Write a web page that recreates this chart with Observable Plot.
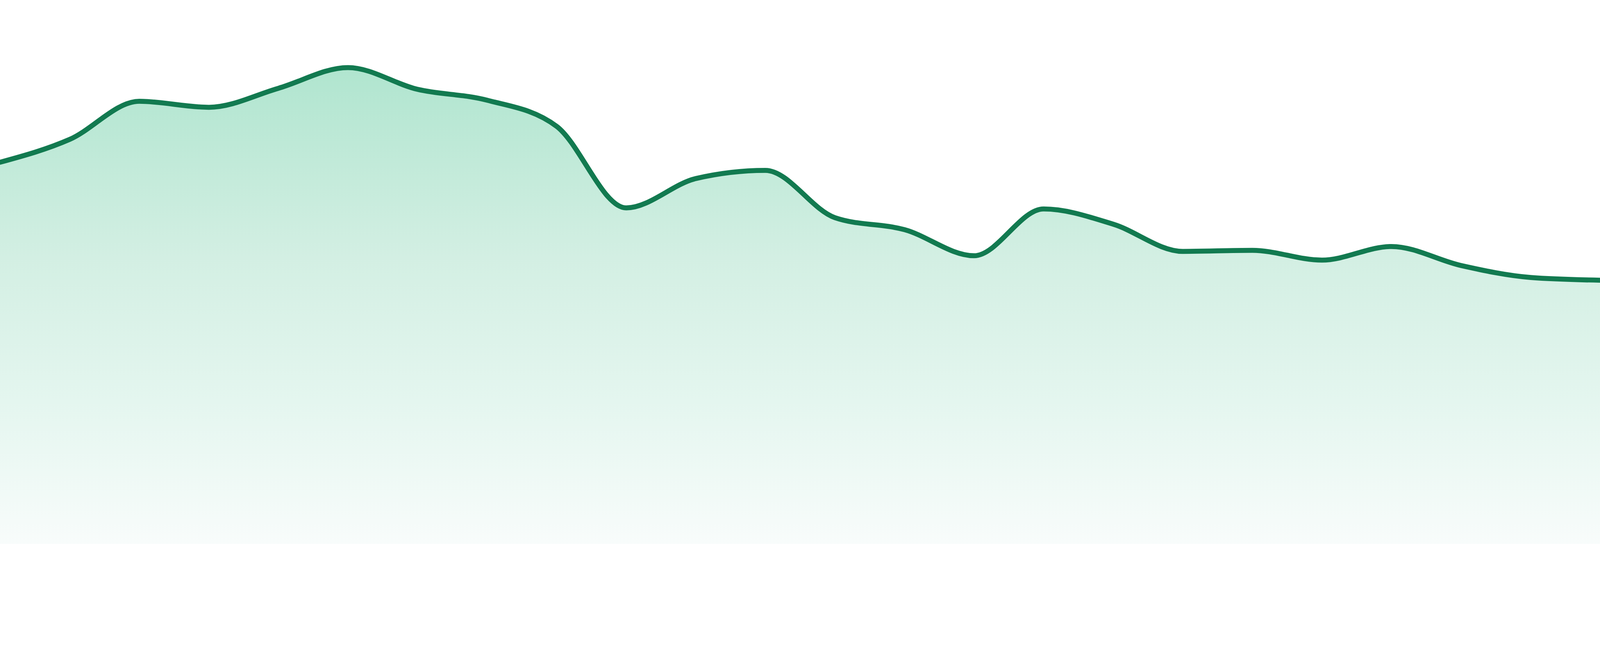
<!DOCTYPE html>
<html>
<head>
<meta charset="utf-8">
<script src="https://cdn.jsdelivr.net/npm/d3@7"></script>
<script src="https://cdn.jsdelivr.net/npm/@observablehq/plot@0.6"></script>
<style>
  html, body { margin: 0; padding: 0; background: #ffffff; }
  #chart svg { display: block; }
</style>
</head>
<body>
<div id="chart"></div>
<script>
// Index of each observation (evenly spaced along x)
const steps = d3.range(24);
// Series values
const values = [70.2, 74.4, 81.4, 80.3, 83.8, 87.6, 83.6, 81.6, 76.8, 61.8, 67.2, 68.7,
                60.0, 57.8, 53.0, 61.6, 58.8, 53.8, 54.0, 52.2, 54.7, 51.2, 49.0, 48.5];

const data = steps.map((i) => ({i, v: values[i]}));

function gradientDefs() {
  const ns = "http://www.w3.org/2000/svg";
  const defs = document.createElementNS(ns, "defs");
  const lg = document.createElementNS(ns, "linearGradient");
  lg.setAttribute("id", "areaGrad");
  lg.setAttribute("x1", "0"); lg.setAttribute("y1", "0");
  lg.setAttribute("x2", "0"); lg.setAttribute("y2", "1");
  [["0", "#b0e5cf"], ["0.4", "#d3efe3"], ["0.7", "#e4f6ef"], ["1", "#f8fcfb"]].forEach(([o, c]) => {
    const s = document.createElementNS(ns, "stop");
    s.setAttribute("offset", o);
    s.setAttribute("stop-color", c);
    lg.appendChild(s);
  });
  defs.appendChild(lg);
  return defs;
}

const chart = Plot.plot({
  width: 4800,
  height: 1680,
  marginLeft: 0,
  marginRight: 0,
  marginTop: 0,
  marginBottom: 48,
  x: {domain: [0, 23], axis: null},
  y: {domain: [0, 100], axis: null},
  marks: [
    gradientDefs,
    Plot.areaY(data, {x: "i", y: "v", curve: "monotone-x", fill: "url(#areaGrad)"}),
    Plot.lineY(data, {x: "i", y: "v", curve: "monotone-x", stroke: "#127a50", strokeWidth: 15})
  ]
});
document.getElementById("chart").appendChild(chart);
</script>
</body>
</html>
